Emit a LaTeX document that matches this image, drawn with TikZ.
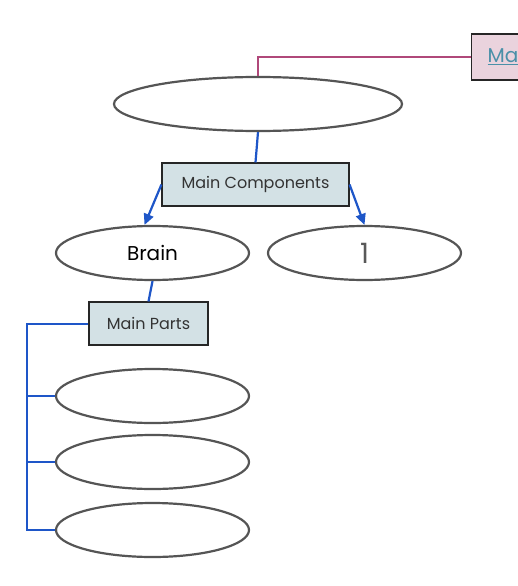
\documentclass[tikz,border=0pt]{standalone}
\usepackage{fontspec}
\setmainfont{Poppins}
\usetikzlibrary{shapes.geometric,arrows.meta}
\definecolor{linkblue}{HTML}{1E56C8}
\definecolor{pinkline}{HTML}{B0487A}
\definecolor{boxfill}{HTML}{D3E1E5}
\definecolor{pinkfill}{HTML}{EAD3DD}
\definecolor{ellstroke}{HTML}{555555}
\definecolor{linktext}{HTML}{4A90A8}
\tikzset{
  oval/.style={ellipse, draw=ellstroke, line width=2.2pt, fill=white, minimum width=193pt, minimum height=54pt, inner sep=0pt},
  labelbox/.style={rectangle, draw=black!85, line width=1.1pt, fill=boxfill, inner sep=0pt, font=\fontsize{16}{18}\selectfont, text=black!80},
  conn/.style={draw=linkblue, line width=2.2pt},
  arr/.style={conn, -{Triangle[length=11pt,width=10pt]}},
}
\begin{document}
\begin{tikzpicture}[x=1pt,y=-1pt]
\clip (0,0) rectangle (518,586);
\fill[white] (0,0) rectangle (518,586);
% nodes
\node[rectangle, draw=black!85, line width=1.1pt, fill=pinkfill, anchor=west, minimum height=46pt, inner xsep=16pt, text width=70pt, align=left, font=\fontsize{20}{22}\selectfont, text=linktext] (ma) at (471,57) {\underline{Ma}};
\node[oval, minimum width=288pt] (top) at (258,104) {};
\node[labelbox, minimum width=187pt, minimum height=43pt] (mc) at (255.5,184.5) {\raisebox{-1.5pt}{Main Components}};
\node[oval, font=\fontsize{20}{22}\selectfont] (brain) at (152.5,253) {Brain};
\node[oval, font=\fontsize{28}{30}\selectfont, text=black!65] (one) at (364.5,253) {1};
\node[labelbox, minimum width=119pt, minimum height=43pt] (mp) at (148.5,323.5) {\raisebox{-1.5pt}{Main Parts}};
\node[oval] (p1) at (152.5,396) {};
\node[oval] (p2) at (152.5,462) {};
\node[oval] (p3) at (152.5,530) {};
\coordinate (bus) at (27,324);
% connectors
\draw[draw=pinkline, line width=2.2pt] (ma.west) -| (top.north);
\draw[conn] (top.south) -- (mc.north);
\draw[arr] (mc.west) -- ([xshift=-8pt]brain.north);
\draw[arr] (mc.east) -- (one.north);
\draw[conn] (brain.south) -- (mp.north);
\draw[conn] (mp.west |- bus) -- (bus) |- (p3.west);
\draw[conn] (p1.west) -- (p1.west -| bus);
\draw[conn] (p2.west) -- (p2.west -| bus);
\end{tikzpicture}
\end{document}
